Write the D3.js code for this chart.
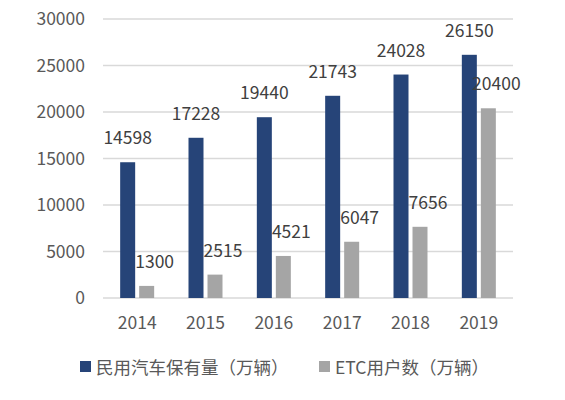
<!DOCTYPE html>
<html>
<head>
<meta charset="utf-8">
<script src="https://cdn.jsdelivr.net/npm/d3@7"></script>
<style>
  body { margin: 0; background: #fff; }
  text { font-family: "Noto Sans CJK SC", "Noto Sans", sans-serif; }
</style>
</head>
<body>
<div id="chart"></div>
<script>
var years = ["2014", "2015", "2016", "2017", "2018", "2019"];
var carValues = [14598, 17228, 19440, 21743, 24028, 26150];
var etcValues = [1300, 2515, 4521, 6047, 7656, 20400];
var seriesNames = ["民用汽车保有量（万辆）", "ETC用户数（万辆）"];
var yTicks = [0, 5000, 10000, 15000, 20000, 25000, 30000];

var colors = ["#264478", "#a5a5a5"];

var W = 565, H = 400;
var margin = {top: 19, right: 52, bottom: 102, left: 103},
    width = W - margin.left - margin.right,
    height = H - margin.top - margin.bottom;

var svg = d3.select("#chart")
    .append("svg")
    .attr("width", W)
    .attr("height", H)
    .append("g")
    .attr("transform", "translate(" + margin.left + "," + margin.top + ")");

var x = d3.scaleBand()
    .domain(years)
    .range([0, width]);

var y = d3.scaleLinear()
    .domain([0, 30000])
    .range([height, 0]);

// gridlines
svg.selectAll(".grid")
    .data(yTicks)
    .enter().append("line")
    .attr("x1", 0)
    .attr("x2", width)
    .attr("y1", function(d) { return y(d); })
    .attr("y2", function(d) { return y(d); })
    .style("stroke", "#d9d9d9")
    .style("stroke-width", 1.5);

// Y axis
var yAxis = svg.append("g")
    .call(d3.axisLeft(y).tickValues(yTicks).tickSize(0).tickPadding(18).tickFormat(d3.format("d")));
yAxis.select(".domain").remove();
yAxis.selectAll("text")
    .style("font-size", "17.5px")
    .style("fill", "#595959");

// X axis
var xAxis = svg.append("g")
    .attr("transform", "translate(0," + height + ")")
    .call(d3.axisBottom(x).tickSize(0).tickPadding(19));
xAxis.select(".domain").remove();
xAxis.selectAll("text")
    .style("font-size", "17.5px")
    .style("fill", "#595959");

var barW = 15, gap = 4;
var series = [carValues, etcValues];

series.forEach(function(vals, si) {
    var offset = si === 0 ? -gap / 2 - barW : gap / 2;
    var g = svg.append("g");
    g.selectAll("rect")
        .data(vals)
        .enter().append("rect")
        .attr("x", function(d, i) { return x(years[i]) + x.bandwidth() / 2 + offset; })
        .attr("y", function(d) { return y(d); })
        .attr("width", barW)
        .attr("height", function(d) { return height - y(d); })
        .style("fill", colors[si]);

    g.selectAll("text")
        .data(vals)
        .enter().append("text")
        .attr("x", function(d, i) {
            return x(years[i]) + x.bandwidth() / 2 + offset + barW / 2 + (si === 0 ? 0 : 8);
        })
        .attr("y", function(d) { return y(d) - 18; })
        .attr("text-anchor", "middle")
        .style("font-size", "17.5px")
        .style("fill", "#404040")
        .text(function(d) { return d; });
});

// legend
var legendX = [80, 319];
var legend = d3.select("svg").append("g");
seriesNames.forEach(function(name, i) {
    legend.append("rect")
        .attr("x", legendX[i])
        .attr("y", 361)
        .attr("width", 11)
        .attr("height", 11)
        .style("fill", colors[i]);
    legend.append("text")
        .attr("x", legendX[i] + 16)
        .attr("y", 374)
        .style("font-size", "17.5px")
        .style("fill", "#595959")
        .text(name);
});
</script>
</body>
</html>
